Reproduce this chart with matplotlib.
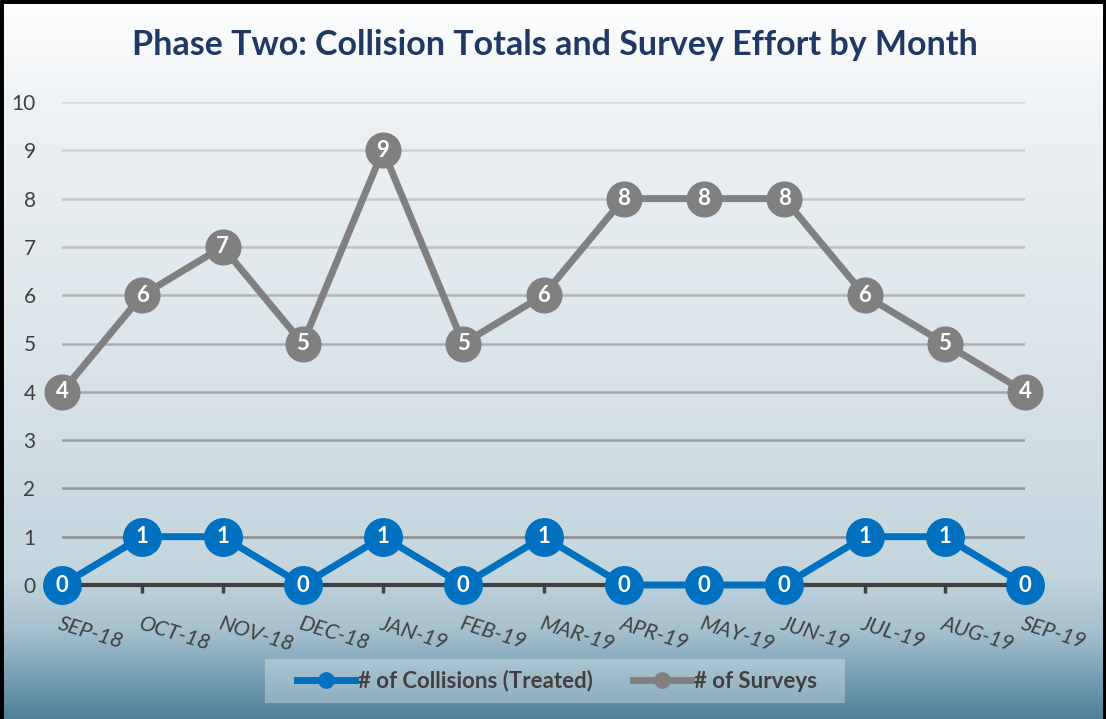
import numpy as np
import matplotlib
matplotlib.use("Agg")
import matplotlib.pyplot as plt
from matplotlib.lines import Line2D
from matplotlib.patches import Rectangle
from matplotlib.colors import LinearSegmentedColormap, to_rgb

months = ["SEP-18", "OCT-18", "NOV-18", "DEC-18", "JAN-19", "FEB-19", "MAR-19",
          "APR-19", "MAY-19", "JUN-19", "JUL-19", "AUG-19", "SEP-19"]
collisions = [0, 1, 1, 0, 1, 0, 1, 0, 0, 0, 1, 1, 0]
surveys = [4, 6, 7, 5, 9, 5, 6, 8, 8, 8, 6, 5, 4]
yticks = list(range(0, 11))

title = "Phase Two: Collision Totals and Survey Effort by Month"
blue = "#0070c0"
grey = "#808080"
txt = "#404040"
FONT = "Lato"

W, H = 1106, 719
fig = plt.figure(figsize=(W / 100, H / 100), dpi=100)

# background gradient
bg = fig.add_axes([0, 0, 1, 1], zorder=-10)
stops = [(0.0, "#ffffff"), (0.15, "#eef2f5"), (0.55, "#d7e2e8"),
         (0.80, "#c3d5dd"), (0.88, "#a5c0cd"), (1.0, "#4f8199")]
cmap = LinearSegmentedColormap.from_list("bg", stops)
grad = np.linspace(0, 1, 512).reshape(-1, 1)
bg.imshow(grad, aspect="auto", cmap=cmap, extent=[0, 1, 1, 0])
bg.set_xlim(0, 1); bg.set_ylim(1, 0)
bg.axis("off")
for (x0, y0, x1, y1) in [(0, 0, 0, 1), (0, 1, 1, 1), (1, 0, 1, 1)]:
    bg.plot([x0, x1], [1 - y0, 1 - y1], color="black", lw=5, solid_capstyle="butt")
# legend panel
fig.patches.append(Rectangle((265 / W, 1 - 703 / H), (845 - 265) / W, (703 - 659) / H,
                             transform=fig.transFigure, facecolor=(1, 1, 1, 0.3),
                             edgecolor="none", zorder=-5))

ax = fig.add_axes([62 / W, 1 - 585 / H, (1025 - 62) / W, (585 - 102) / H])
ax.patch.set_alpha(0)
x = np.arange(len(months))
ax.set_xlim(0, len(months) - 1)
ax.set_ylim(0, 10)
ax.set_yticks(yticks)
ax.set_yticklabels([str(v) for v in yticks], fontsize=15, color=txt, family=FONT)
ax.tick_params(axis="y", length=0, pad=19)
ax.set_xticks(x)
ax.set_xticklabels(months, rotation=-17, ha="left", va="top", rotation_mode="anchor",
                   fontsize=15.5, color=txt, family=FONT, style="italic")
ax.tick_params(axis="x", length=6, width=2.5, color=txt, direction="out", pad=15)
for s in ["top", "right", "left"]:
    ax.spines[s].set_visible(False)
ax.spines["bottom"].set_color(txt)
ax.spines["bottom"].set_linewidth(3)
ax.spines["bottom"].set_zorder(2)

c_top = np.array(to_rgb("#d9d9d9")); c_bot = np.array(to_rgb("#7f8589"))
for v in yticks[1:]:
    t = v / 10
    col = c_top * t + c_bot * (1 - t)
    ax.axhline(v, color=col, lw=1.8, zorder=1)

ax.plot(x, surveys, color=grey, lw=5, marker="o", markersize=25, zorder=3, clip_on=False)
ax.plot(x, collisions, color=blue, lw=5, marker="o", markersize=27, zorder=4, clip_on=False)
for xi, v in zip(x, surveys):
    ax.text(xi, v, str(v), color="white", fontsize=16, fontweight="bold", family=FONT,
            ha="center", va="center", zorder=5)
for xi, v in zip(x, collisions):
    ax.text(xi, v, str(v), color="white", fontsize=16, fontweight="bold", family=FONT,
            ha="center", va="center", zorder=6)

fig.text(555 / W, 1 - 45 / H, title, fontsize=24.5, fontweight="bold", color="#1f3864",
         family=FONT, ha="center", va="center")

handles = [Line2D([], [], color=blue, lw=5, marker="o", markersize=11),
           Line2D([], [], color=grey, lw=5, marker="o", markersize=11)]
leg = fig.legend(handles, ["# of Collisions (Treated)", "# of Surveys"], loc="center",
                 bbox_to_anchor=(557 / W, 1 - 681 / H), ncol=2, frameon=False,
                 prop={"family": FONT, "weight": "bold", "size": 16},
                 handlelength=2.6, handletextpad=0.15, columnspacing=1.8,
                 borderpad=0.55, borderaxespad=0)
for t in leg.get_texts():
    t.set_color(txt)

fig.savefig("out.png", dpi=100)
